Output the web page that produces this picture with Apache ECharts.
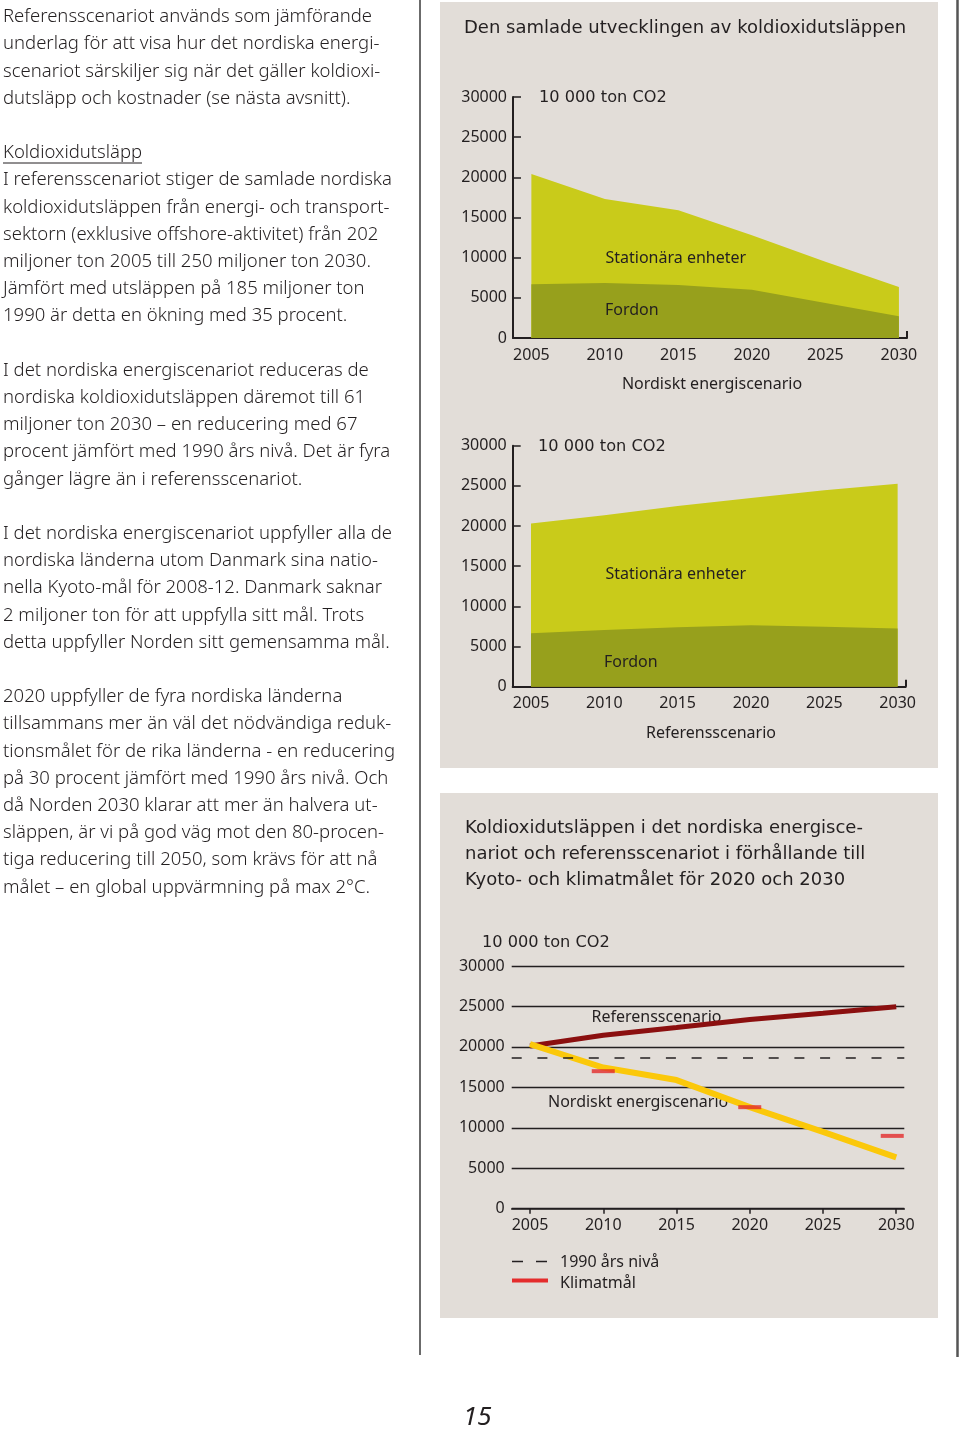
<!DOCTYPE html>
<html><head><meta charset="utf-8">
<script src="https://cdn.jsdelivr.net/npm/echarts@6/dist/echarts.min.js"></script>
<style>html,body{margin:0;padding:0;background:#fff}#c{width:960px;height:1429px}</style>
</head><body><div id="c"></div>
<script>
// ---------- data ----------
const years = [2005, 2010, 2015, 2020, 2025, 2030];
const yTicks = [0, 5000, 10000, 15000, 20000, 25000, 30000];
// Nordiskt energiscenario (area): total = Fordon + Stationära enheter
const nordAreaTotal = [20400, 17300, 15900, 12800, 9500, 6350];
const nordFordon    = [6700, 6850, 6600, 6000, 4350, 2700];
// Referensscenario (area)
const refAreaTotal  = [20300, 21350, 22500, 23500, 24450, 25250];
const refFordon     = [6650, 7050, 7400, 7650, 7450, 7250];
// Line chart
const refTotal  = [20100, 21450, 22400, 23400, 24150, 24950];
const nordTotal = [20350, 17450, 15900, 12550, 9500, 6350];
const level1990 = 18600;
const klimatYears  = [2010, 2020, 2030];
const klimatValues = [17000, 12550, 9000];

const bodyLines = [
 "Referensscenariot används som jämförande",
 "underlag för att visa hur det nordiska energi-",
 "scenariot särskiljer sig när det gäller koldioxi-",
 "dutsläpp och kostnader (se nästa avsnitt).",
 "",
 "Koldioxidutsläpp",
 "I referensscenariot stiger de samlade nordiska",
 "koldioxidutsläppen från energi- och transport-",
 "sektorn (exklusive offshore-aktivitet) från 202",
 "miljoner ton 2005 till 250 miljoner ton 2030.",
 "Jämfört med utsläppen på 185 miljoner ton",
 "1990 är detta en ökning med 35 procent.",
 "",
 "I det nordiska energiscenariot reduceras de",
 "nordiska koldioxidutsläppen däremot till 61",
 "miljoner ton 2030 – en reducering med 67",
 "procent jämfört med 1990 års nivå. Det är fyra",
 "gånger lägre än i referensscenariot.",
 "",
 "I det nordiska energiscenariot uppfyller alla de",
 "nordiska länderna utom Danmark sina natio-",
 "nella Kyoto-mål för 2008-12. Danmark saknar",
 "2 miljoner ton för att uppfylla sitt mål. Trots",
 "detta uppfyller Norden sitt gemensamma mål.",
 "",
 "2020 uppfyller de fyra nordiska länderna",
 "tillsammans mer än väl det nödvändiga reduk-",
 "tionsmålet för de rika länderna - en reducering",
 "på 30 procent jämfört med 1990 års nivå. Och",
 "då Norden 2030 klarar att mer än halvera ut-",
 "släppen, är vi på god väg mot den 80-procen-",
 "tiga reducering till 2050, som krävs för att nå",
 "målet – en global uppvärmning på max 2°C."
];

// ---------- styles ----------
const INK = '#231f20';
const PANEL = '#e2ddd8';
const LIGHT = '#c9cb1a';
const DARK = '#97a01c';
const FONT = 'Noto Sans';
const SPACED = 'DejaVu Sans';
const XMIN = 2003.75, XMAX = 2030.55;

const pairs = v => years.map((y, i) => [y, v[i]]);
const fmt = v => String(v);

function areaX(gi) {
  return {
    gridIndex: gi, type: 'value', min: XMIN, max: XMAX,
    axisLine: { show: true, lineStyle: { color: INK, width: 2 } },
    axisTick: { show: true, inside: true, length: 7, customValues: [XMAX], lineStyle: { color: INK, width: 2 } },
    axisLabel: { customValues: years, formatter: fmt, margin: 9, fontSize: 16, fontFamily: FONT, color: INK },
    splitLine: { show: false }
  };
}
function areaY(gi) {
  return {
    gridIndex: gi, type: 'value', min: 0, max: 30000, interval: 5000,
    axisLine: { show: true, lineStyle: { color: INK, width: 2 } },
    axisTick: { show: true, inside: true, length: 8, lineStyle: { color: INK, width: 1.5 } },
    axisLabel: { formatter: fmt, margin: 6, fontSize: 16, fontFamily: FONT, color: INK },
    splitLine: { show: false }
  };
}
function area(name, gi, vals, color, z) {
  return {
    name, type: 'line', xAxisIndex: gi, yAxisIndex: gi,
    data: pairs(vals), symbol: 'none', smooth: false,
    lineStyle: { width: 0 }, areaStyle: { color, opacity: 1, origin: 'start' }, silent: true, z
  };
}
function txt(x, y, text, opt) {
  opt = opt || {};
  return {
    type: 'text', x, y, z: opt.z == null ? 10 : opt.z, silent: true,
    style: {
      text, fill: INK, fontSize: opt.size || 16, fontFamily: opt.family || FONT,
      fontStyle: opt.italic ? 'italic' : 'normal', fontWeight: opt.weight || 'normal',
      align: opt.align || 'left', verticalAlign: opt.va || 'middle',
      lineHeight: opt.lh
    }
  };
}

const graphics = [
  { type: 'rect', z: -10, silent: true, shape: { x: 440, y: 2, width: 498, height: 766 }, style: { fill: PANEL } },
  { type: 'rect', z: -10, silent: true, shape: { x: 440, y: 793, width: 498, height: 525 }, style: { fill: PANEL } },
  { type: 'line', z: 5, silent: true, shape: { x1: 420, y1: 0, x2: 420, y2: 1355 }, style: { stroke: '#3a3a3a', lineWidth: 1.5 } },
  { type: 'line', z: 5, silent: true, shape: { x1: 957.5, y1: 0, x2: 957.5, y2: 1357 }, style: { stroke: '#555', lineWidth: 2.5 } },
  // left body text
  txt(3, 3.4, bodyLines.join('\n'), { size: 18.5, weight: 300, va: 'top', lh: 27.2 }),
  { type: 'line', z: 10, silent: true, shape: { x1: 3, y1: 163, x2: 142, y2: 163 }, style: { stroke: INK, lineWidth: 1 } },
  // panel 1
  txt(464, 28, 'Den samlade utvecklingen av koldioxidutsläppen', { size: 18, family: SPACED }),
  txt(539, 98, '10 000 ton CO2', { size: 16.2, family: SPACED }),
  txt(605.5, 258, 'Stationära enheter'),
  txt(605, 310, 'Fordon'),
  txt(712, 384, 'Nordiskt energiscenario', { align: 'center' }),
  txt(538, 447, '10 000 ton CO2', { size: 16.2, family: SPACED }),
  txt(605.5, 574, 'Stationära enheter'),
  txt(604, 662, 'Fordon'),
  txt(711, 733, 'Referensscenario', { align: 'center' }),
  // panel 2
  txt(465, 816, 'Koldioxidutsläppen i det nordiska energisce-\nnariot och referensscenariot i förhållande till\nKyoto- och klimatmålet för 2020 och 2030',
      { size: 18, family: SPACED, va: 'top', lh: 25.6 }),
  txt(482, 942.5, '10 000 ton CO2', { size: 16.2, family: SPACED }),
  txt(591.5, 1017, 'Referensscenario', { z: 1 }),
  txt(548, 1102, 'Nordiskt energiscenario', { z: 1 }),
  // legend
  { type: 'line', z: 10, silent: true, shape: { x1: 512, y1: 1261.5, x2: 548, y2: 1261.5 }, style: { stroke: INK, lineWidth: 1.6, lineDash: [11, 13] } },
  txt(560, 1262, '1990 års nivå'),
  { type: 'line', z: 10, silent: true, shape: { x1: 512, y1: 1280.5, x2: 548, y2: 1280.5 }, style: { stroke: '#e42c2c', lineWidth: 4 } },
  txt(560, 1283, 'Klimatmål'),
  // page number
  txt(463, 1418, '15', { size: 26, italic: true })
];

const option = {
  animation: false,
  backgroundColor: '#ffffff',
  grid: [
    { left: 513, top: 97, width: 394, height: 241, outerBoundsMode: 'none', containLabel: false },
    { left: 512.7, top: 445.7, width: 393, height: 241, outerBoundsMode: 'none', containLabel: false },
    { left: 511.7, top: 966, width: 392.6, height: 242.7, outerBoundsMode: 'none', containLabel: false }
  ],
  xAxis: [
    areaX(0), areaX(1),
    {
      gridIndex: 2, type: 'value', min: XMIN, max: XMAX,
      axisLine: { show: true, lineStyle: { color: INK, width: 1.5 } },
      axisTick: { show: true, inside: false, length: 5, customValues: years, lineStyle: { color: INK, width: 1.5 } },
      axisLabel: { customValues: years, formatter: fmt, margin: 9, fontSize: 16, fontFamily: FONT, color: INK },
      splitLine: { show: false }
    }
  ],
  yAxis: [
    areaY(0), areaY(1),
    {
      gridIndex: 2, type: 'value', min: 0, max: 30000, interval: 5000,
      axisLine: { show: false }, axisTick: { show: false },
      axisLabel: { formatter: fmt, margin: 7, fontSize: 16, fontFamily: FONT, color: INK },
      splitLine: { show: true, lineStyle: { color: INK, width: 1.3 } }
    }
  ],
  series: [
    area('Stationära enheter', 0, nordAreaTotal, LIGHT, 1),
    area('Fordon', 0, nordFordon, DARK, 2),
    area('Stationära enheter', 1, refAreaTotal, LIGHT, 1),
    area('Fordon', 1, refFordon, DARK, 2),
    {
      name: '1990 års nivå', type: 'line', xAxisIndex: 2, yAxisIndex: 2, data: [], silent: true, z: 2,
      markLine: {
        silent: true, symbol: 'none', label: { show: false },
        lineStyle: { color: INK, width: 1.6, type: [10, 15.7] },
        data: [{ yAxis: level1990 }]
      }
    },
    {
      name: 'Referensscenario', type: 'line', xAxisIndex: 2, yAxisIndex: 2, data: pairs(refTotal),
      symbol: 'none', lineStyle: { color: '#8b0f0f', width: 5, cap: 'butt' }, silent: true, z: 3
    },
    {
      name: 'Nordiskt energiscenario', type: 'line', xAxisIndex: 2, yAxisIndex: 2, data: pairs(nordTotal),
      symbol: 'none', lineStyle: { color: '#fbc80a', width: 6, cap: 'butt' }, silent: true, z: 4
    },
    {
      name: 'Klimatmål', type: 'scatter', xAxisIndex: 2, yAxisIndex: 2,
      data: klimatYears.map((y, i) => ({ value: [y, klimatValues[i]], symbolOffset: i === klimatYears.length - 1 ? [-4, 0] : [0, 0] })),
      symbol: 'rect', symbolSize: [23, 4], itemStyle: { color: '#e42c2c' }, silent: true, z: 5
    }
  ],
  graphic: graphics
};

const chart = echarts.init(document.getElementById('c'), null, { renderer: 'canvas', width: 960, height: 1429 });
chart.setOption(option);
</script>
</body></html>
